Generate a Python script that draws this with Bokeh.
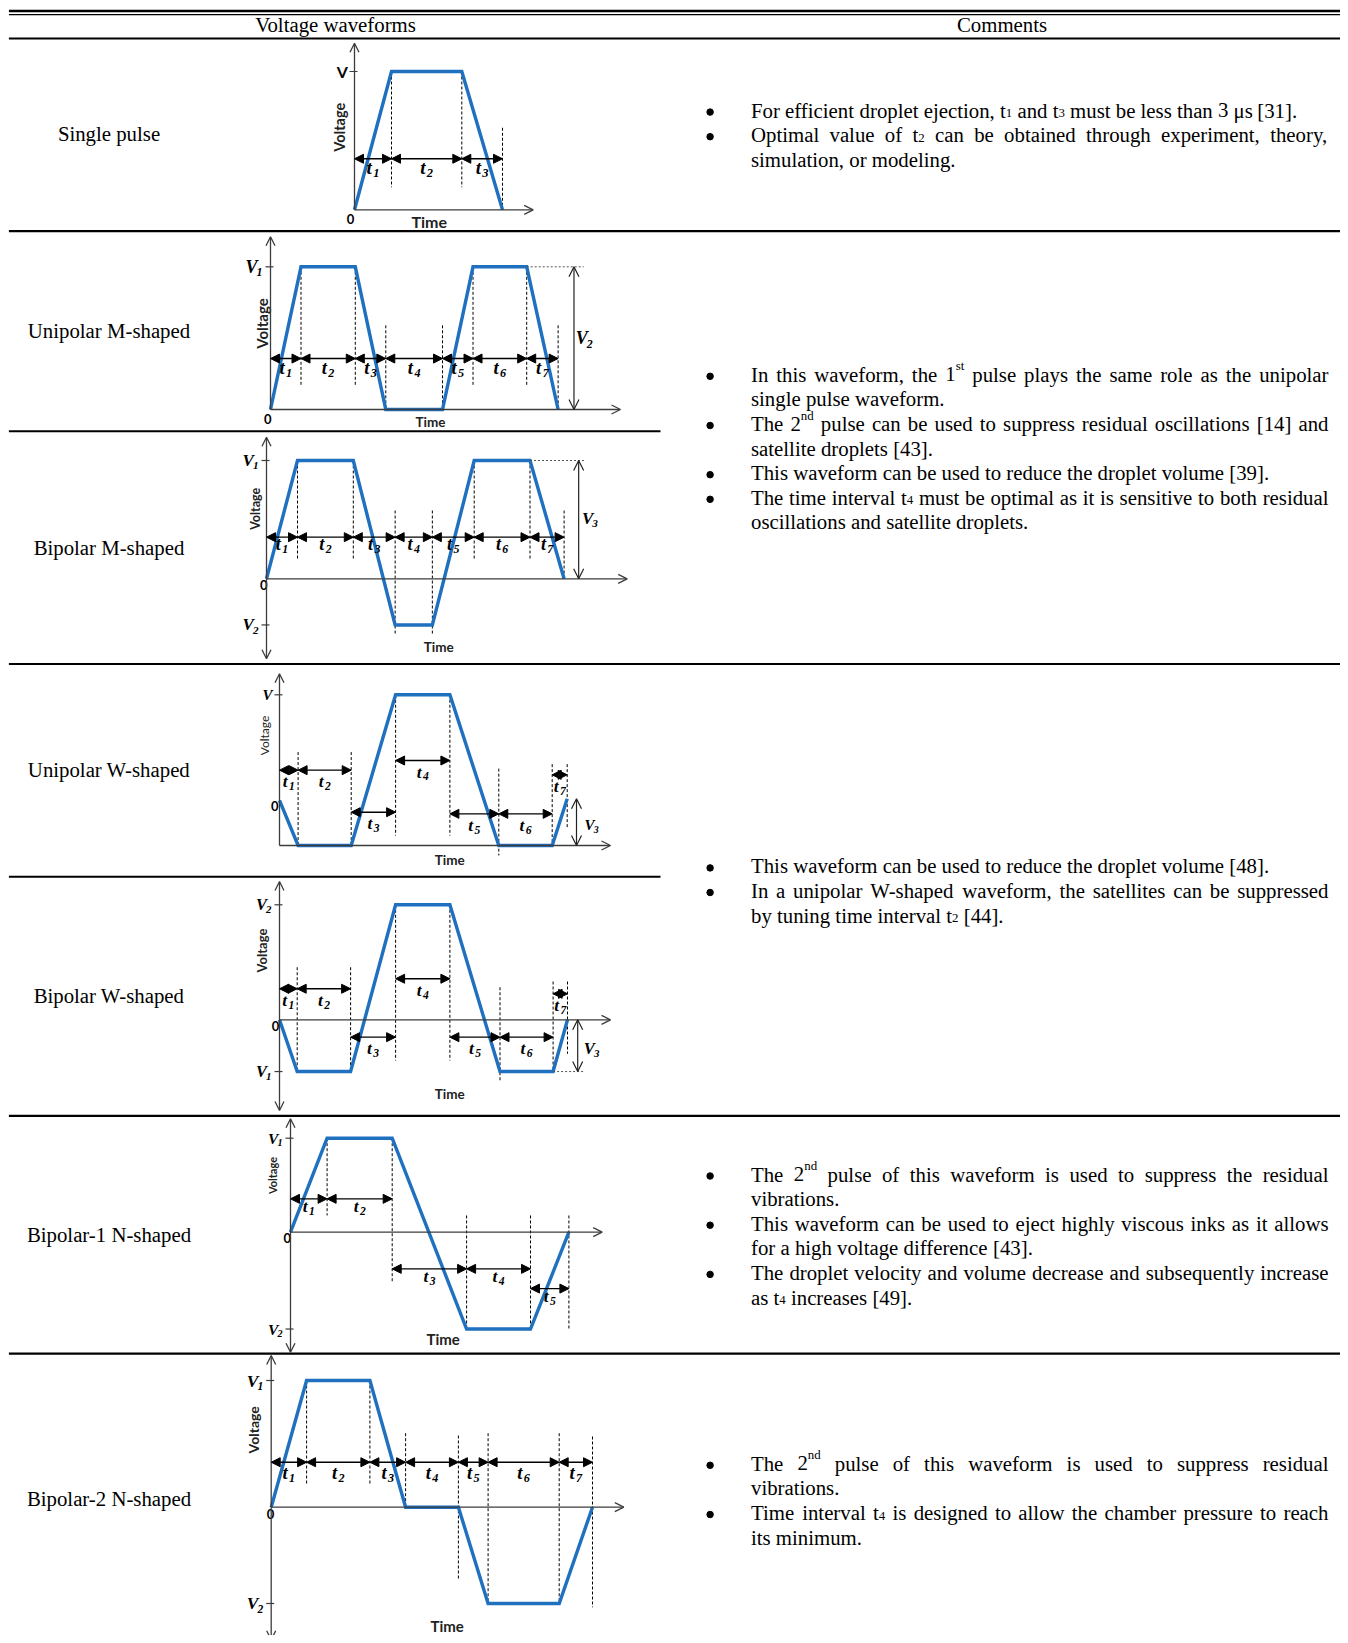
import re
import numpy as np
from bokeh.plotting import figure
from bokeh.models import Range1d, Arrow, NormalHead, OpenHead, ColumnDataSource
from bokeh.embed import file_html
from bokeh.resources import INLINE
from bokeh.core.properties import value

# ---------------------------------------------------------------- DATA
header_labels = ["Voltage waveforms", "Comments"]
row_labels = ["Single pulse", "Unipolar M-shaped", "Bipolar M-shaped",
              "Unipolar W-shaped", "Bipolar W-shaped",
              "Bipolar-1 N-shaped", "Bipolar-2 N-shaped"]

# segment durations (arbitrary time units) and normalised voltage at each edge
single_durations = [1.0, 1.9, 1.1]
single_levels = [0, 1, 1, 0]
uni_m_durations = [1.0, 1.78, 1.0, 1.86, 1.0, 1.76, 1.03]
uni_m_levels = [0, 1, 1, 0, 0, 1, 1, 0]
bi_m_durations = [1.0, 1.8, 1.35, 1.2, 1.35, 1.8, 1.1]
bi_m_levels = [0, 1, 1, -0.39, -0.39, 1, 1, 0]
uni_w_durations = [0.62, 1.77, 1.48, 1.81, 1.63, 1.78, 0.5]
uni_w_levels = [0.3, 0, 0, 1, 1, 0, 0, 0.31]
bi_w_durations = [0.59, 1.78, 1.5, 1.81, 1.67, 1.77, 0.48]
bi_w_levels = [0, -0.45, -0.45, 1, 1, -0.45, -0.45, 0]
bi_n1_durations = [1.22, 2.17, 2.48, 2.13, 1.28]
bi_n1_levels = [0, 1, 1, -1.03, -1.03, 0]
bi_n2_durations = [1.18, 2.11, 1.19, 1.76, 0.99, 2.37, 1.11]
bi_n2_levels = [0, 1, 1, 0, 0, -0.76, -0.76, 0]

# voltage level names on the vertical axis: (symbol, subscript, level)
single_marks = [("V", "", single_levels[1])]
uni_m_marks = [("V", "1", uni_m_levels[1])]
bi_m_marks = [("V", "1", bi_m_levels[1]), ("V", "2", bi_m_levels[3])]
uni_w_marks = [("V", "", uni_w_levels[3])]
bi_w_marks = [("V", "2", bi_w_levels[3]), ("V", "1", bi_w_levels[1])]
bi_n1_marks = [("V", "1", bi_n1_levels[1]), ("V", "2", bi_n1_levels[3])]
bi_n2_marks = [("V", "1", bi_n2_levels[1]), ("V", "2", bi_n2_levels[5])]

# amplitude markers: (symbol, subscript, from level, to level)
uni_m_amp = ("V", "2", 0.0, uni_m_levels[6])
bi_m_amp = ("V", "3", 0.0, bi_m_levels[6])
uni_w_amp = ("V", "3", 0.0, uni_w_levels[7])
bi_w_amp = ("V", "3", 0.0, bi_w_levels[6])

# comments (bullet?, text, justified?)  _{x}=subscript ^{x}=superscript
comments_single = [
    (True, "For efficient droplet ejection, t_{1} and t_{3} must be less than 3 μs [31].", False),
    (True, "Optimal value of t_{2} can be obtained through experiment, theory,", True),
    (False, "simulation, or modeling.", False),
]
comments_m = [
    (True, "In this waveform, the 1^{st} pulse plays the same role as the unipolar", True),
    (False, "single pulse waveform.", False),
    (True, "The 2^{nd} pulse can be used to suppress residual oscillations [14] and", True),
    (False, "satellite droplets [43].", False),
    (True, "This waveform can be used to reduce the droplet volume [39].", False),
    (True, "The time interval t_{4} must be optimal as it is sensitive to both residual", True),
    (False, "oscillations and satellite droplets.", False),
]
comments_w = [
    (True, "This waveform can be used to reduce the droplet volume [48].", False),
    (True, "In a unipolar W-shaped waveform, the satellites can be suppressed", True),
    (False, "by tuning time interval t_{2} [44].", False),
]
comments_n1 = [
    (True, "The 2^{nd} pulse of this waveform is used to suppress the residual", True),
    (False, "vibrations.", False),
    (True, "This waveform can be used to eject highly viscous inks as it allows", True),
    (False, "for a high voltage difference [43].", False),
    (True, "The droplet velocity and volume decrease and subsequently increase", True),
    (False, "as t_{4} increases [49].", False),
]
comments_n2 = [
    (True, "The 2^{nd} pulse of this waveform is used to suppress residual", True),
    (False, "vibrations.", False),
    (True, "Time interval t_{4} is designed to allow the chamber pressure to reach", True),
    (False, "its minimum.", False),
]

# ---------------------------------------------------------------- STYLE / LAYOUT
SERIF = "Liberation Serif"
SANS = "Lato"
BLUE = "#1f70bf"
AXC = "#3c3c3c"
FS = 20.8
LS = 24.6
TXT_L, TXT_R, BUL_X = 750.5, 1328.0, 709.6
BASE_DY = -1.5      # text baseline relative to visual line centre (svg rendering)

RULES = [(10.5, 8.4, 1343, 2.6), (14.2, 8.4, 1343, 1.3), (38.0, 8.4, 1343, 2.0),
         (230.6, 8.4, 1343, 2.2), (430.8, 8.4, 660, 2.0), (663.5, 8.4, 1343, 2.2),
         (876.3, 8.4, 660, 2.0), (1115.3, 8.4, 1343, 2.2), (1353.2, 8.4, 1343, 2.2)]
HEADER_POS = [(335, 23.5), (1001.5, 23.5)]
ROW_Y = [134, 331, 548, 770, 996, 1235, 1499]
ROW_X = 108.5
COMMENT_Y = [111.1, 375.3, 866.9, 1175.0, 1464.3]

LAYOUT = [
    dict(x0=354, y0=209.3, sx=37, sy=138.3, ytop=42.7, ybot=None, xend=532.7,
         dashes=[(1, 1, 0.163), (2, 1, 0.163), (3, 0.593, 0)],
         arrows=[(0, 1, 0.369), (1, 2, 0.369), (2, 3, 0.369)], ldy=9, tsize=19,
         vfont=SANS, vstyle="bold", vsize=16, zero=(350, 218.5), volt=(339.3, 126.7, 14.5, "bold"),
         time=(428.7, 220.5, 16), amp=None),
    dict(x0=270, y0=409, sx=30.5, sy=142.7, ytop=236.3, ybot=None, xend=620,
         dashes=[(1, 1, 0.17), (2, 1, 0.17), (5, 1, 0.17), (6, 1, 0.17),
                 (3, 0.59, 0), (4, 0.59, 0), (7, 0.59, 0)],
         arrows=[(i, i + 1, 0.357) for i in range(7)], ldy=9, tsize=18.5,
         vfont=SERIF, vstyle="bold italic", vsize=18, zero=(267.3, 418.5), volt=(261.7, 323, 15, "bold"),
         time=(430, 421.3, 13.5), amp=dict(t=9.95, dot_edge=6, dot_t=10.27, dot_end=1, lab=(10.30, 0.5))),
    dict(x0=266, y0=578.3, sx=31, sy=118.3, ytop=436.7, ybot=658.3, xend=626.7,
         dashes=[(1, 1, 0.17), (2, 1, 0.17), (5, 1, 0.17), (6, 1, 0.17),
                 (3, 0.577, -0.465), (4, 0.577, -0.465), (7, 0.577, 0)],
         arrows=[(i, i + 1, 0.352) for i in range(7)], ldy=7, tsize=18,
         vfont=SERIF, vstyle="bold italic", vsize=17, zero=(263.3, 584.5), volt=(255, 508.3, 12.5, "bold"),
         time=(438.3, 646.7, 13.5), amp=dict(t=10.07, dot_edge=6, dot_t=10.3, dot_end=1, lab=(10.45, 0.508))),
    dict(x0=279, y0=845, sx=30, sy=150.7, ytop=673.3, ybot=None, xend=610,
         dashes=[(1, 0.62, 0), (2, 0.62, -0.01), (3, 1, 0.066), (4, 1, 0.066),
                 (5, 0.51, -0.066), (6, 0.54, 0), (7, 0.54, 0.11)],
         arrows=[(0, 1, 0.5), (1, 2, 0.5), (2, 3, 0.221), (3, 4, 0.564),
                 (4, 5, 0.21), (5, 6, 0.21), (6, 7, 0.469)], ldy=11, tsize=17.5,
         vfont=SERIF, vstyle="bold italic", vsize=15, zero=(274.3, 805.7), volt=(264, 735, 12, "normal"),
         time=(449.3, 859, 13.5), amp=dict(t=9.9, dot_edge=6, dot_t=10.14, dot_end=0, lab=(10.42, 0.137))),
    dict(x0=279, y0=1019.3, sx=30, sy=115, ytop=881, ybot=1110, xend=610,
         dashes=[(1, 0.457, -0.45), (2, 0.457, -0.45), (3, 1, -0.354), (4, 1, -0.354),
                 (5, 0.283, -0.543), (6, 0.333, -0.45), (7, 0.333, -0.296)],
         arrows=[(0, 1, 0.27), (1, 2, 0.27), (2, 3, -0.151), (3, 4, 0.357),
                 (4, 5, -0.151), (5, 6, -0.151), (6, 7, 0.226)], ldy=11, tsize=17.5,
         vfont=SERIF, vstyle="bold italic", vsize=16.5, zero=(275, 1025), volt=(261.7, 950, 13, "bold"),
         time=(449.3, 1093.3, 13.5), amp=dict(t=9.94, dot_edge=6, dot_t=10.14, dot_end=1, lab=(10.42, -0.252))),
    dict(x0=290, y0=1231.7, sx=30, sy=94, ytop=1118.3, ybot=1351.7, xend=601.7,
         dashes=[(1, 1, 0.178), (2, 1, -0.53), (3, 0.178, -1.03), (4, 0.178, -1.03), (5, 0.178, -1.03)],
         arrows=[(0, 1, 0.355), (1, 2, 0.355), (2, 3, -0.39), (3, 4, -0.39), (4, 5, -0.60)],
         ldy=7, tsize=17.5,
         vfont=SERIF, vstyle="bold italic", vsize=15.5, zero=(286.7, 1237), volt=(271.7, 1175, 11, "bold"),
         time=(442.7, 1338, 15), amp=None),
    dict(x0=270.7, y0=1506.7, sx=30, sy=126.7, ytop=1355, ybot=1639.3, xend=623.3,
         dashes=[(1, 1, 0.171), (2, 1, 0.171), (3, 0.584, 0), (4, 0.566, -0.579),
                 (5, 0.584, -0.76), (6, 0.584, -0.76), (7, 0.558, -0.79)],
         arrows=[(i, i + 1, 0.355) for i in range(7)], ldy=11, tsize=18.5,
         vfont=SERIF, vstyle="bold italic", vsize=17.5, zero=(270, 1513.5), volt=(253.3, 1429.3, 14, "bold"),
         time=(446.7, 1625, 15), amp=None),
]

WAVES = [
    (single_durations, single_levels, single_marks, None),
    (uni_m_durations, uni_m_levels, uni_m_marks, uni_m_amp),
    (bi_m_durations, bi_m_levels, bi_m_marks, bi_m_amp),
    (uni_w_durations, uni_w_levels, uni_w_marks, uni_w_amp),
    (bi_w_durations, bi_w_levels, bi_w_marks, bi_w_amp),
    (bi_n1_durations, bi_n1_levels, bi_n1_marks, None),
    (bi_n2_durations, bi_n2_levels, bi_n2_marks, None),
]
COMMENTS = [comments_single, comments_m, comments_w, comments_n1, comments_n2]

# Times / Liberation Serif advance widths (1/1000 em)
TW = {' ': 250, ',': 250, '.': 250, '-': 333, '[': 333, ']': 333, '(': 333, ')': 333,
      ':': 278, ';': 278, 'μ': 500,
      'A': 722, 'B': 667, 'C': 667, 'D': 722, 'E': 611, 'F': 556, 'G': 722, 'H': 722,
      'I': 333, 'J': 389, 'K': 722, 'L': 611, 'M': 889, 'N': 722, 'O': 722, 'P': 556,
      'Q': 722, 'R': 667, 'S': 556, 'T': 611, 'U': 722, 'V': 722, 'W': 944, 'X': 722,
      'Y': 722, 'Z': 611,
      'a': 444, 'b': 500, 'c': 444, 'd': 500, 'e': 444, 'f': 333, 'g': 500, 'h': 500,
      'i': 278, 'j': 278, 'k': 500, 'l': 278, 'm': 778, 'n': 500, 'o': 500, 'p': 500,
      'q': 500, 'r': 333, 's': 389, 't': 278, 'u': 500, 'v': 500, 'w': 722, 'x': 500,
      'y': 500, 'z': 444}
for d in "0123456789":
    TW[d] = 500


def tw(s, size):
    return sum(TW.get(c, 500) for c in s) * size / 1000.0


def runs_of(tok):
    out, pos = [], 0
    for m in re.finditer(r'_\{([^}]*)\}|\^\{([^}]*)\}', tok):
        if m.start() > pos:
            out.append((tok[pos:m.start()], 'n'))
        out.append((m.group(1), 'sub') if m.group(1) is not None else (m.group(2), 'sup'))
        pos = m.end()
    if pos < len(tok):
        out.append((tok[pos:], 'n'))
    return out


# ---------------------------------------------------------------- FIGURE
p = figure(width=1340, height=1635, x_range=Range1d(0, 1340), y_range=Range1d(1635, 0),
           output_backend="svg", toolbar_location=None, min_border=0,
           x_axis_location=None, y_axis_location=None)
p.grid.visible = False
p.outline_line_color = None
p.background_fill_color = "white"
p.border_fill_color = "white"

# table rules
p.segment(x0=[r[1] for r in RULES], y0=[r[0] for r in RULES],
          x1=[r[2] for r in RULES], y1=[r[0] for r in RULES],
          line_width=[r[3] for r in RULES], line_color="black")

# header + row labels
p.text(x=[h[0] for h in HEADER_POS], y=[h[1] for h in HEADER_POS], text=header_labels,
       text_font=value(SERIF), text_font_size=f"{FS}px", text_align="center",
       text_baseline="alphabetic", text_color="black")
p.text(x=[ROW_X] * len(row_labels), y=[y + BASE_DY for y in ROW_Y], text=row_labels,
       text_font=value(SERIF), text_font_size=f"{FS}px", text_align="center",
       text_baseline="alphabetic", text_color="black")

# comments (justified layout)
SS = FS * 0.62
norm = dict(x=[], y=[], text=[])
small = dict(x=[], y=[], text=[])
bul = dict(x=[], y=[])
for y_start, lines in zip(COMMENT_Y, COMMENTS):
    for k, (has_bullet, txt, justify) in enumerate(lines):
        cy = y_start + k * LS
        base = cy + BASE_DY
        toks = txt.split(" ")
        truns = [runs_of(t) for t in toks]
        widths = [sum(tw(s, FS if kd == 'n' else SS) for s, kd in r) for r in truns]
        if justify and len(toks) > 1:
            gap = (TXT_R - TXT_L - sum(widths)) / (len(toks) - 1)
        else:
            gap = tw(" ", FS)
        x = TXT_L
        for r, w in zip(truns, widths):
            for s, kd in r:
                if kd == 'n':
                    norm["x"].append(x); norm["y"].append(base); norm["text"].append(s)
                    x += tw(s, FS)
                else:
                    small["x"].append(x)
                    small["y"].append(base + (3.0 if kd == 'sub' else -8.0))
                    small["text"].append(s)
                    x += tw(s, SS)
            x += gap
        if has_bullet:
            bul["x"].append(BUL_X); bul["y"].append(cy + 0.5)

p.text(x="x", y="y", text="text", source=ColumnDataSource(norm), text_font=value(SERIF),
       text_font_size=f"{FS}px", text_align="left", text_baseline="alphabetic", text_color="black")
p.text(x="x", y="y", text="text", source=ColumnDataSource(small), text_font=value(SERIF),
       text_font_size=f"{SS:.1f}px", text_align="left", text_baseline="alphabetic", text_color="black")
p.scatter(x="x", y="y", source=ColumnDataSource(bul), marker="circle", size=6.5,
          fill_color="black", line_color="black")

# waveform panels
ax1 = dict(xs=[], ys=[], xe=[], ye=[])
ax2 = dict(xs=[], ys=[], xe=[], ye=[])
ivs = dict(xs=[], ys=[], xe=[], ye=[])
amps = dict(xs=[], ys=[], xe=[], ye=[])


def add(d, a, b, c, e):
    d["xs"].append(a); d["ys"].append(b); d["xe"].append(c); d["ye"].append(e)


BASE_W = {"t": 0.30, "V": 0.67}

for (dur, lvl, marks, amp), L in zip(WAVES, LAYOUT):
    t = np.concatenate([[0.0], np.cumsum(dur)])
    v = np.asarray(lvl, dtype=float)
    x0, y0, sx, sy = L["x0"], L["y0"], L["sx"], L["sy"]
    sp = p.subplot(x_source=Range1d(0, 1), y_source=Range1d(0, 1),
                   x_target=Range1d(x0, x0 + sx), y_target=Range1d(y0, y0 - sy))

    def px(tt):
        return x0 + tt * sx

    def py(vv):
        return y0 - vv * sy

    # axes (arrows)
    add(ax1, x0, y0, L["xend"], y0)
    if L["ybot"] is None:
        add(ax1, x0, y0, x0, L["ytop"])
    else:
        add(ax2, x0, L["ybot"], x0, L["ytop"])

    # dashed guides
    de = L["dashes"]
    sp.segment(x0=[t[e] for e, _, _ in de], y0=[a for _, a, _ in de],
               x1=[t[e] for e, _, _ in de], y1=[b for _, _, b in de],
               line_color="black", line_width=1, line_dash="3 2")

    # waveform
    sp.line(t, v, line_color=BLUE, line_width=3.4, line_join="miter")

    # interval labels
    lb = dict(x=[], y=[], text=[], xo=[], yo=[])
    ls = dict(x=[], y=[], text=[], xo=[], yo=[])
    ts = L["tsize"]
    tss = ts * 0.66
    for (i, j, lv) in L["arrows"]:
        add(ivs, px(t[i]), py(lv), px(t[j]), py(lv))
        w = BASE_W["t"] * ts + 0.5 * tss + 1
        lb["x"].append((t[i] + t[j]) / 2); lb["y"].append(lv); lb["text"].append("t")
        lb["xo"].append(-w / 2); lb["yo"].append(L["ldy"])
        ls["x"].append((t[i] + t[j]) / 2); ls["y"].append(lv); ls["text"].append(str(j))
        ls["xo"].append(-w / 2 + BASE_W["t"] * ts + 1); ls["yo"].append(L["ldy"] + ts * 0.28)
    sp.text(x="x", y="y", text="text", x_offset="xo", y_offset="yo",
            source=ColumnDataSource(lb), text_font=value(SERIF), text_font_style="bold italic",
            text_font_size=f"{ts}px", text_align="left", text_baseline="middle", text_color="black")
    sp.text(x="x", y="y", text="text", x_offset="xo", y_offset="yo",
            source=ColumnDataSource(ls), text_font=value(SERIF), text_font_style="bold italic",
            text_font_size=f"{tss:.1f}px", text_align="left", text_baseline="middle", text_color="black")

    # level marks on the vertical axis
    vb = dict(x=[], y=[], text=[], xo=[], yo=[])
    vs = dict(x=[], y=[], text=[], xo=[], yo=[])
    vz = L["vsize"]
    vzs = vz * 0.66
    for (b, s, lev) in marks:
        w = BASE_W["V"] * vz + (0.5 * vzs if s else 0)
        left = -7 - w
        vb["x"].append(0); vb["y"].append(lev); vb["text"].append(b)
        vb["xo"].append(left); vb["yo"].append(0)
        if s:
            vs["x"].append(0); vs["y"].append(lev); vs["text"].append(s)
            vs["xo"].append(left + BASE_W["V"] * vz - 1); vs["yo"].append(vz * 0.3)
    sp.segment(x0=[-5.0 / sx] * len(marks), y0=[m[2] for m in marks],
               x1=[3.0 / sx] * len(marks), y1=[m[2] for m in marks],
               line_color=AXC, line_width=1.2)

    if amp is not None:
        A = L["amp"]
        b, s, va, vb_ = amp
        add(amps, px(A["t"]), py(va), px(A["t"]), py(vb_))
        dot_v = vb_ if A["dot_end"] == 1 else va
        sp.segment(x0=[t[A["dot_edge"]]], y0=[dot_v], x1=[A["dot_t"]], y1=[dot_v],
                   line_color="#555555", line_width=1, line_dash="2 2")
        w = BASE_W["V"] * vz + 0.5 * vzs
        vb["x"].append(A["lab"][0]); vb["y"].append(A["lab"][1]); vb["text"].append(b)
        vb["xo"].append(-w / 2); vb["yo"].append(0)
        vs["x"].append(A["lab"][0]); vs["y"].append(A["lab"][1]); vs["text"].append(s)
        vs["xo"].append(-w / 2 + BASE_W["V"] * vz - 1); vs["yo"].append(vz * 0.3)

    sp.text(x="x", y="y", text="text", x_offset="xo", y_offset="yo",
            source=ColumnDataSource(vb), text_font=value(L["vfont"]), text_font_style=L["vstyle"],
            text_font_size=f"{vz}px", text_align="left", text_baseline="middle", text_color="black")
    if vs["x"]:
        sp.text(x="x", y="y", text="text", x_offset="xo", y_offset="yo",
                source=ColumnDataSource(vs), text_font=value(SERIF), text_font_style="bold italic",
                text_font_size=f"{vzs:.1f}px", text_align="left", text_baseline="middle",
                text_color="black")

    # zero, Voltage, Time
    p.text(x=[L["zero"][0]], y=[L["zero"][1]], text=["0"], text_font=value(SANS),
           text_font_style="bold", text_font_size="13px", text_align="center",
           text_baseline="middle", text_color="black")
    vx, vy, vsz, vst = L["volt"]
    p.text(x=[vx], y=[vy], text=["Voltage"], angle=np.pi / 2, text_font=value(SANS),
           text_font_style=vst, text_font_size=f"{vsz}px", text_align="center",
           text_baseline="middle", text_color="#222222")
    tx, ty, tsz = L["time"]
    p.text(x=[tx], y=[ty], text=["Time"], text_font=value(SANS), text_font_style="bold",
           text_font_size=f"{tsz}px", text_align="center", text_baseline="middle",
           text_color="#222222")

p.add_layout(Arrow(x_start="xs", y_start="ys", x_end="xe", y_end="ye",
                   source=ColumnDataSource(ax1), line_color=AXC, line_width=1.3,
                   end=OpenHead(size=9, line_color=AXC, line_width=1.3)))
p.add_layout(Arrow(x_start="xs", y_start="ys", x_end="xe", y_end="ye",
                   source=ColumnDataSource(ax2), line_color=AXC, line_width=1.3,
                   start=OpenHead(size=9, line_color=AXC, line_width=1.3),
                   end=OpenHead(size=9, line_color=AXC, line_width=1.3)))
p.add_layout(Arrow(x_start="xs", y_start="ys", x_end="xe", y_end="ye",
                   source=ColumnDataSource(ivs), line_color="black", line_width=1.4,
                   start=NormalHead(size=9, fill_color="black", line_color="black", line_width=1),
                   end=NormalHead(size=9, fill_color="black", line_color="black", line_width=1)))
p.add_layout(Arrow(x_start="xs", y_start="ys", x_end="xe", y_end="ye",
                   source=ColumnDataSource(amps), line_color="#222222", line_width=1.2,
                   start=OpenHead(size=10, line_color="#222222", line_width=1.2),
                   end=OpenHead(size=10, line_color="#222222", line_width=1.2)))

open("out.html", "w").write(file_html(p, INLINE))
